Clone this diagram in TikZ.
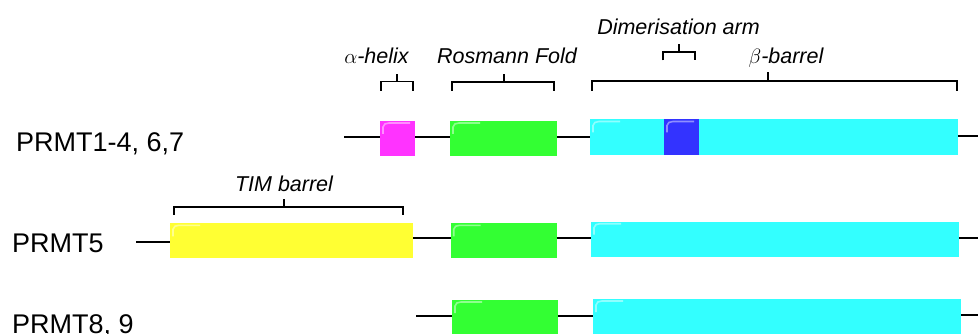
\documentclass[tikz,border=0pt]{standalone}
\usepackage{fontspec}
\setmainfont{Liberation Sans}
\begin{document}
\begin{tikzpicture}[x=1pt,y=-1pt,
  dom/.style={draw=none, inner sep=0pt, outer sep=0pt, anchor=north west},
  link/.style={line width=2pt, black},
  brk/.style={line width=1.8pt, black},
  rowlab/.style={anchor=base west, inner sep=0pt, font=\fontsize{27}{30}\selectfont},
  domlab/.style={anchor=base, inner sep=0pt, font=\fontsize{21.5}{25}\selectfont\itshape},
  gloss/.style={draw=white, draw opacity=0.45, line width=1.6pt}]
\useasboundingbox (0,0) rectangle (978,334);
\definecolor{cmag}{HTML}{FF33FF}
\definecolor{cgrn}{HTML}{33FF33}
\definecolor{ccya}{HTML}{33FFFF}
\definecolor{cblu}{HTML}{3333FF}
\definecolor{cyel}{HTML}{FFFF33}

% row labels
\node[rowlab] (l1) at (16,151.7) {PRMT1-4, 6,7};
\node[rowlab] (l2) at (12,252) {PRMT5};
\node[rowlab] (l3) at (12,333) {PRMT8, 9};

% row 1
\coordinate (r1s) at (344,137);
\node[dom, fill=cmag, minimum width=35pt, minimum height=35pt] (m1) at (380,121) {};
\node[dom, fill=cgrn, minimum width=107pt, minimum height=35pt] (g1) at (450,121) {};
\node[dom, fill=ccya, minimum width=368pt, minimum height=36pt] (c1) at (590,119.5) {};
\node[dom, fill=cblu, minimum width=35pt, minimum height=36pt] (b1) at (664,119.5) {};
\coordinate (r1e) at (978,136);
\draw[link] (r1s) -- (m1.west |- r1s);
\draw[link] (m1.east |- r1s) -- (g1.west |- r1s);
\draw[link] (g1.east |- r1s) -- (c1.west |- r1s);
\draw[link] (c1.east |- r1e) -- (r1e);

% row 2
\coordinate (r2s) at (136,242);
\node[dom, fill=cyel, minimum width=243pt, minimum height=34.5pt] (y2) at (170,223.3) {};
\node[dom, fill=cgrn, minimum width=106pt, minimum height=34.5pt] (g2) at (450.7,223.3) {};
\node[dom, fill=ccya, minimum width=368pt, minimum height=35pt] (c2) at (591,221.7) {};
\coordinate (r2e) at (978,238);
\draw[link] (r2s) -- (y2.west |- r2s);
\draw[link] (y2.east |- r2e) -- (g2.west |- r2e);
\draw[link] (g2.east |- r2e) -- (c2.west |- r2e);
\draw[link] (c2.east |- r2e) -- (r2e);

% row 3
\coordinate (r3s) at (416,316);
\node[dom, fill=cgrn, minimum width=106pt, minimum height=40pt] (g3) at (452,300) {};
\node[dom, fill=ccya, minimum width=368pt, minimum height=40pt] (c3) at (593,299) {};
\coordinate (r3e) at (978,315);
\draw[link] (r3s) -- (g3.west |- r3s);
\draw[link] (g3.east |- r3s) -- (c3.west |- r3s);
\draw[link] (c3.east |- r3e) -- (r3e);

% gloss highlights
\foreach \n in {m1,g1,c1,b1,y2,g2,c2,g3,c3}{
  \draw[gloss] ([xshift=3pt,yshift=-13pt]\n.north west) -- ([xshift=3pt,yshift=-6pt]\n.north west)
    to[out=90,in=180] ([xshift=9pt,yshift=-2pt]\n.north west) -- ([xshift=30pt,yshift=-2pt]\n.north west);
}

% brackets
\draw[brk] (381,91) -- (381,81.5) -- (413,81.5) -- (413,91);
\draw[brk] (397,81.5) -- (397,74.5) coordinate (ta);
\draw[brk] (452,91) -- (452,82) -- (554,82) -- (554,91);
\draw[brk] (504,82) -- (504,74) coordinate (tr);
\draw[brk] (592,91) -- (592,81) -- (957,81) -- (957,91);
\draw[brk] (768,81) -- (768,72) coordinate (tb);
\draw[brk] (663,60.5) -- (663,52) -- (695,52) -- (695,60.5);
\draw[brk] (679,52) -- (679,44) coordinate (td);
\draw[brk] (174,215) -- (174,206.7) -- (402.7,206.7) -- (402.7,215);
\draw[brk] (284,206.7) -- (284,199) coordinate (tt);

% domain labels
\node[domlab] (na) at (376.5,64) {$\alpha$-helix};
\node[domlab] (nr) at (507,64) {Rosmann Fold};
\node[domlab] (nb) at (786,64) {$\beta$-barrel};
\node[domlab] (nd) at (678.5,35) {Dimerisation arm};
\node[domlab] (nt) at (284,192) {TIM barrel};
\end{tikzpicture}
\end{document}
